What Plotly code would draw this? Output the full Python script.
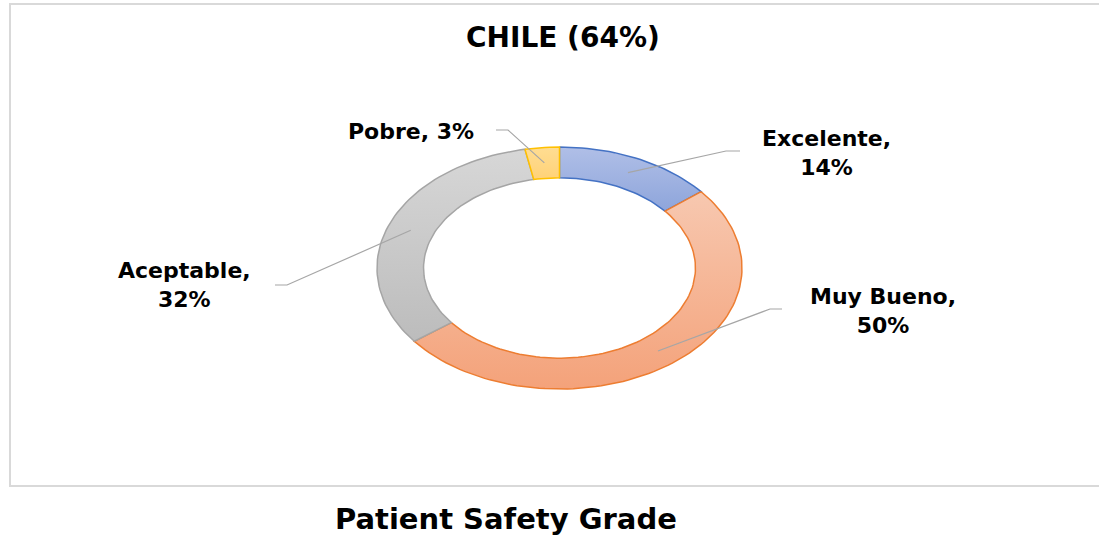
import numpy as np
import plotly.graph_objects as go

# ---- data ----
categories = ["Excelente", "Muy Bueno", "Aceptable", "Pobre"]
values = [14, 50, 32, 3]
title_text = "CHILE (64%)"
axis_caption = "Patient Safety Grade"

# ---- style ----
fill_light = ["#b0bfe7", "#f7c8b0", "#d7d7d7", "#ffdd92"]
fill_dark = ["#8ea5db", "#f4a27a", "#bcbcbc", "#ffd278"]
border = ["#4472c4", "#ed7d31", "#a5a5a5", "#ffc000"]
W, H = 1099, 540
cx, cy, rx, ry = 559.5, 268.0, 182.5, 121.0
hole = 0.745
# label placement (pixel positions in the page)
label_pos = {
    "Excelente": dict(x=826, y=153, elbow=(726, 151), end=(740, 151)),
    "Muy Bueno": dict(x=883, y=311, elbow=(770, 309), end=(782, 309)),
    "Aceptable": dict(x=184, y=285, elbow=(287, 285), end=(275, 285)),
    "Pobre": dict(x=411, y=131, elbow=(508, 130), end=(496, 130)),
}
two_line = {"Excelente": True, "Muy Bueno": True, "Aceptable": True, "Pobre": False}
font_lbl = dict(family="DejaVu Sans", size=22, color="#000000", weight="bold")

fig = go.Figure()
total = float(sum(values))
cum = 0.0
for i, (cat, v) in enumerate(zip(categories, values)):
    a0 = cum / total * 2 * np.pi
    a1 = (cum + v) / total * 2 * np.pi
    cum += v
    t = np.linspace(a0, a1, max(8, int(200 * v / total) + 2))
    xo = cx + rx * np.sin(t)
    yo = cy - ry * np.cos(t)
    xi = cx + rx * hole * np.sin(t[::-1])
    yi = cy - ry * hole * np.cos(t[::-1])
    xs = np.concatenate([xo, xi, xo[:1]])
    ys = np.concatenate([yo, yi, yo[:1]])
    fig.add_trace(go.Scatter(
        x=xs, y=ys, mode="lines", fill="toself",
        line=dict(color=border[i], width=1.5),
        fillgradient=dict(type="vertical",
                          colorscale=[[0, fill_dark[i]], [1, fill_light[i]]]),
        hoverinfo="skip", showlegend=False,
    ))
    # leader line from slice middle
    am = (a0 + a1) / 2
    mx = cx + rx * (1 + hole) / 2 * np.sin(am)
    my = cy - ry * (1 + hole) / 2 * np.cos(am)
    lp = label_pos[cat]
    fig.add_trace(go.Scatter(
        x=[mx, lp["elbow"][0], lp["end"][0]],
        y=[my, lp["elbow"][1], lp["end"][1]],
        mode="lines", line=dict(color="#a6a6a6", width=1.2),
        hoverinfo="skip", showlegend=False,
    ))
    pct = f"{v}%"
    txt = f"{cat},<br>{pct}" if two_line[cat] else f"{cat}, {pct}"
    fig.add_annotation(x=lp["x"], y=lp["y"], xref="x", yref="y", text=txt,
                       showarrow=False, font=font_lbl, align="center",
                       xanchor="center", yanchor="middle")

fig.add_annotation(x=563, y=37, xref="x", yref="y", text=title_text,
                   showarrow=False, xanchor="center", yanchor="middle",
                   font=dict(family="DejaVu Sans", size=28, color="#000000", weight="bold"))
fig.add_annotation(x=506, y=519, xref="x", yref="y", text=axis_caption,
                   showarrow=False, xanchor="center", yanchor="middle",
                   font=dict(family="DejaVu Sans", size=29, color="#000000", weight="bold"))

fig.add_shape(type="rect", xref="x", yref="y", x0=10, y0=4, x1=1110, y1=486,
              line=dict(color="#d9d9d9", width=2), layer="below")

fig.update_layout(
    width=W, height=H, margin=dict(l=0, r=0, t=0, b=0),
    paper_bgcolor="#ffffff", plot_bgcolor="#ffffff",
    xaxis=dict(range=[0, W], visible=False, fixedrange=True),
    yaxis=dict(range=[H, 0], visible=False, fixedrange=True),
    showlegend=False,
)
fig.write_html("out.html",
               config={"displayModeBar": False, "staticPlot": True},
               post_script="document.body.style.margin='0';document.body.style.overflow='hidden';")
